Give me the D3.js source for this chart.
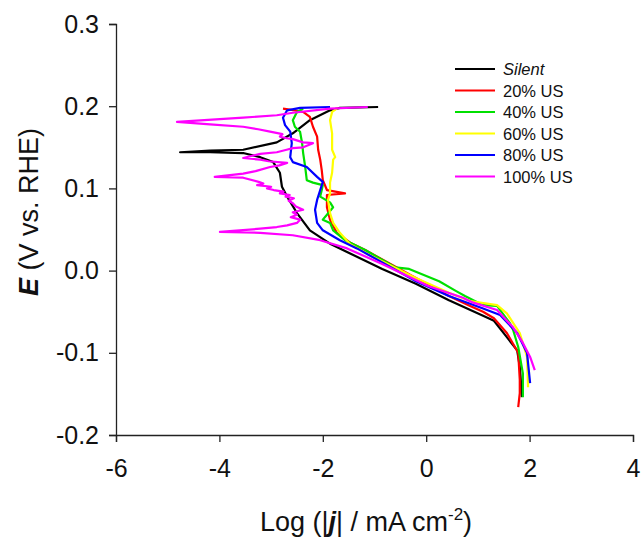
<!DOCTYPE html>
<html>
<head>
<meta charset="utf-8">
<script src="https://cdn.jsdelivr.net/npm/d3@7"></script>
<style>
  body { margin: 0; background: #fff; }
  svg { display: block; font-family: "Liberation Sans", Arial, sans-serif; }
  .tick text { font-size: 25px; fill: #111; }
  .axis-label { font-size: 27px; fill: #111; }
  .legend text { font-size: 16.5px; fill: #111; }
</style>
</head>
<body>
<svg width="641" height="541"></svg>
<script>
// [log|j|, E] pairs, cathodic end first
const silent = [
  [1.85, -0.154], [1.83, -0.133], [1.81, -0.117], [1.76, -0.097], [1.56, -0.081],
  [1.31, -0.061], [1.10, -0.055], [0.44, -0.036], [-0.20, -0.016], [-0.85, 0.002],
  [-1.38, 0.018], [-1.84, 0.032], [-2.25, 0.049], [-2.50, 0.070], [-2.69, 0.090],
  [-2.79, 0.102], [-2.83, 0.119], [-2.96, 0.132], [-3.21, 0.138], [-3.54, 0.143],
  [-4.18, 0.144], [-4.76, 0.144], [-4.18, 0.146], [-3.54, 0.147], [-2.89, 0.156],
  [-2.58, 0.167], [-2.25, 0.183], [-1.86, 0.195], [-1.67, 0.198], [-0.93, 0.199]
];

const us20 = [
  [1.78, -0.166], [1.81, -0.149], [1.81, -0.133], [1.78, -0.100], [1.56, -0.076],
  [1.31, -0.058], [1.10, -0.050], [0.85, -0.043], [0.44, -0.031], [-0.20, -0.009],
  [-1.18, 0.025], [-1.47, 0.034], [-1.73, 0.046], [-1.86, 0.062], [-1.92, 0.077],
  [-1.92, 0.092], [-1.57, 0.094], [-1.92, 0.098], [-2.00, 0.110], [-2.02, 0.122],
  [-2.05, 0.135], [-2.09, 0.147], [-2.11, 0.163], [-2.19, 0.175], [-2.25, 0.187],
  [-2.38, 0.193], [-2.54, 0.195], [-2.77, 0.197]
];

const us40 = [
  [1.87, -0.154], [1.87, -0.125], [1.78, -0.093], [1.68, -0.072], [1.62, -0.064],
  [1.37, -0.043], [1.10, -0.042], [0.75, -0.031], [0.58, -0.025], [0.25, -0.013],
  [-0.33, 0.002], [-0.60, 0.004], [-1.18, 0.025], [-1.57, 0.037], [-1.80, 0.049],
  [-1.86, 0.058], [-2.00, 0.062], [-1.92, 0.068], [-1.80, 0.077], [-1.86, 0.083],
  [-2.05, 0.090], [-2.02, 0.098], [-2.00, 0.104], [-2.19, 0.107], [-2.31, 0.110],
  [-2.34, 0.126], [-2.38, 0.143], [-2.40, 0.155], [-2.44, 0.169], [-2.54, 0.175],
  [-2.58, 0.183], [-2.50, 0.193], [-2.38, 0.197]
];

const us60 = [
  [1.97, -0.142], [1.95, -0.105], [1.81, -0.076], [1.56, -0.052], [1.37, -0.042],
  [0.85, -0.037], [0.44, -0.027], [-0.20, -0.009], [-1.13, 0.020], [-1.47, 0.032],
  [-1.67, 0.046], [-1.80, 0.058], [-1.86, 0.070], [-1.90, 0.086], [-1.86, 0.094],
  [-1.86, 0.107], [-1.82, 0.119], [-1.80, 0.135], [-1.76, 0.138], [-1.82, 0.147],
  [-1.82, 0.167], [-1.86, 0.183], [-1.82, 0.193], [-1.71, 0.198]
];

const us80 = [
  [2.01, -0.137], [1.95, -0.100], [1.76, -0.076], [1.43, -0.054], [1.10, -0.046],
  [0.44, -0.031], [-0.20, -0.013], [-0.85, 0.010], [-1.34, 0.027], [-1.67, 0.037],
  [-2.00, 0.049], [-2.11, 0.058], [-2.15, 0.074], [-2.11, 0.086], [-2.05, 0.098],
  [-2.00, 0.108], [-2.11, 0.114], [-2.31, 0.126], [-2.58, 0.132], [-2.63, 0.138],
  [-2.60, 0.155], [-2.63, 0.169], [-2.73, 0.177], [-2.77, 0.186], [-2.69, 0.195],
  [-2.44, 0.198], [-1.86, 0.199]
];

const us100 = [
  [2.10, -0.121], [2.01, -0.105], [1.87, -0.088], [1.68, -0.069], [1.37, -0.048],
  [0.91, -0.039], [0.71, -0.033], [0.05, -0.019], [-0.85, 0.008], [-1.53, 0.027],
  [-2.05, 0.037], [-2.58, 0.043], [-3.21, 0.046], [-3.99, 0.047], [-3.21, 0.051],
  [-2.89, 0.053], [-2.69, 0.055], [-2.50, 0.058], [-2.44, 0.062], [-2.62, 0.065],
  [-2.50, 0.068], [-2.58, 0.071], [-2.38, 0.074], [-2.52, 0.078], [-2.58, 0.082],
  [-2.66, 0.085], [-2.56, 0.088], [-2.72, 0.090], [-2.64, 0.092], [-2.83, 0.094],
  [-2.76, 0.096], [-2.95, 0.098], [-3.08, 0.100], [-3.00, 0.102], [-3.27, 0.104],
  [-3.15, 0.106], [-3.24, 0.108], [-3.54, 0.113], [-4.09, 0.114], [-3.54, 0.118],
  [-3.30, 0.121], [-3.02, 0.126], [-2.84, 0.128], [-2.69, 0.131], [-3.05, 0.133],
  [-3.21, 0.135], [-3.54, 0.137], [-3.21, 0.142], [-2.89, 0.144], [-2.70, 0.147],
  [-2.58, 0.149], [-2.38, 0.150], [-2.19, 0.155], [-2.38, 0.156], [-2.58, 0.160],
  [-2.70, 0.161], [-2.83, 0.163], [-2.78, 0.166], [-3.02, 0.169], [-3.25, 0.172],
  [-3.54, 0.175], [-4.18, 0.178], [-4.82, 0.181], [-3.54, 0.186], [-2.89, 0.189],
  [-2.58, 0.192], [-1.86, 0.197], [-1.13, 0.199]
];

const seriesNames = ["Silent", "20% US", "40% US", "60% US", "80% US", "100% US"];
const seriesColors = ["#000000", "#ff0000", "#00e000", "#ffff00", "#0000ff", "#ff00ff"];
const seriesData = [silent, us20, us40, us60, us80, us100];

const xTicks = [-6, -4, -2, 0, 2, 4];
const yTicks = [-0.2, -0.1, 0.0, 0.1, 0.2, 0.3];

const svg = d3.select("svg");
const margin = { top: 24, right: 8, bottom: 106, left: 116 };
const width = +svg.attr("width") - margin.left - margin.right;
const height = +svg.attr("height") - margin.top - margin.bottom;

const g = svg.append("g")
  .attr("transform", `translate(${margin.left},${margin.top})`);

const x = d3.scaleLinear().domain([-6, 4]).range([0, width]);
const y = d3.scaleLinear().domain([-0.2, 0.3]).range([height, 0]);

// X-axis
const xAxis = g.append("g")
  .attr("transform", `translate(0,${height})`)
  .call(d3.axisBottom(x).tickValues(xTicks).tickSize(7).tickPadding(17));

// Y-axis
const yAxis = g.append("g")
  .call(d3.axisLeft(y).tickValues(yTicks).tickSize(7).tickPadding(10));

[xAxis, yAxis].forEach(a => {
  a.select(".domain").attr("stroke", "#222").attr("stroke-width", 1.3);
  a.selectAll(".tick line").attr("stroke", "#222").attr("stroke-width", 1.3);
  a.selectAll("text").attr("font-family", null).attr("font-size", null);
});
// plain hyphen minus like the original
xAxis.selectAll("text").text(d => String(d));
yAxis.selectAll("text").text(d => d.toFixed(1));

// X-axis label
const xl = svg.append("text")
  .attr("class", "axis-label")
  .attr("x", 366)
  .attr("y", 531)
  .attr("text-anchor", "middle");
xl.append("tspan").text("Log (|");
xl.append("tspan").attr("font-weight", "bold").attr("font-style", "italic").text("j");
xl.append("tspan").text("| / mA cm");
xl.append("tspan").attr("font-size", "17px").attr("dy", -11).text("-2");
xl.append("tspan").attr("dy", 11).text(")");

// Y-axis label
const yl = svg.append("text")
  .attr("class", "axis-label")
  .attr("transform", "translate(38,212) rotate(-90)")
  .attr("text-anchor", "middle");
yl.append("tspan").attr("font-weight", "bold").attr("font-style", "italic").text("E");
yl.append("tspan").text(" (V vs. RHE)");

// Line generator
const line = d3.line()
  .x(d => x(d[0]))
  .y(d => y(d[1]));

seriesData.forEach((data, i) => {
  g.append("path")
    .datum(data)
    .attr("fill", "none")
    .attr("stroke", seriesColors[i])
    .attr("stroke-width", 2.2)
    .attr("stroke-linejoin", "round")
    .attr("d", line);
});

// Legend
const legend = svg.append("g").attr("class", "legend");
seriesNames.forEach((name, i) => {
  const ly = 69 + i * 21.5;
  legend.append("line")
    .attr("x1", 455).attr("x2", 495)
    .attr("y1", ly).attr("y2", ly)
    .attr("stroke", seriesColors[i])
    .attr("stroke-width", 2.2);
  legend.append("text")
    .attr("x", 503)
    .attr("y", ly + 6)
    .attr("font-style", i === 0 ? "italic" : null)
    .text(name);
});
</script>
</body>
</html>
